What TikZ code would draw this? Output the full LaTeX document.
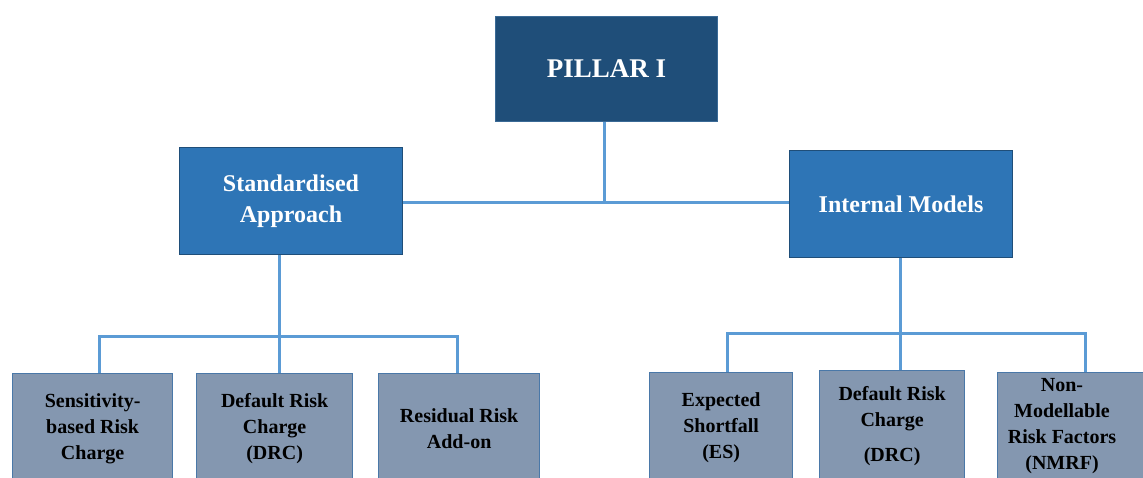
\documentclass[tikz,border=0pt]{standalone}
\usepackage{fontspec}
\setmainfont{Liberation Serif}
\definecolor{pillarfill}{HTML}{1F4E79}
\definecolor{pillaredge}{HTML}{3A6A96}
\definecolor{midfill}{HTML}{2E75B6}
\definecolor{midedge}{HTML}{1F4E79}
\definecolor{leaffill}{HTML}{8497B0}
\definecolor{leafedge}{HTML}{4A78A8}
\definecolor{linkcol}{HTML}{5B9BD5}
\tikzset{
  boxbase/.style={rectangle, anchor=north west, inner sep=0pt, align=center, font=\bfseries},
  pillarbox/.style={boxbase, fill=pillarfill, draw=pillaredge, line width=1pt, text=white,
    font=\bfseries\fontsize{27}{32}\selectfont},
  midbox/.style={boxbase, fill=midfill, draw=midedge, line width=1pt, text=white,
    font=\bfseries\fontsize{24}{31}\selectfont},
  leafbox/.style={boxbase, fill=leaffill, draw=leafedge, line width=1.3pt, text=black,
    minimum height=110pt, font=\bfseries\fontsize{20}{26}\selectfont},
  leaftext/.style={anchor=center, inner sep=0pt, align=center, text=black,
    font=\bfseries\fontsize{20}{26}\selectfont},
  link/.style={draw=linkcol, line width=3pt}
}
\begin{document}
\begin{tikzpicture}[x=1pt,y=-1pt]
\useasboundingbox (0,0) rectangle (1143,477);
\clip (0,0) rectangle (1143,477);

\node[pillarbox, minimum width=222pt, minimum height=105pt] (pillar) at (495,16) {PILLAR I};
\node[midbox, minimum width=223pt, minimum height=107pt] (std) at (179,147) {Standardised\\Approach};
\node[midbox, minimum width=223pt, minimum height=107pt] (im) at (789,150) {Internal Models};

\node[leafbox, minimum width=160pt] (l1) at (12,373) {Sensitivity-\\based Risk\\Charge};
\node[leafbox, minimum width=156pt] (l2) at (196,373) {Default Risk\\Charge\\(DRC)};
\node[leafbox, minimum width=161pt] (l3) at (378,373) {Residual Risk\\Add-on};

\node[leafbox, minimum width=143pt] (r1) at (649,372) {Expected\\Shortfall\\(ES)};
\node[leafbox, minimum width=145pt] (r2) at (819,370) {Default Risk\\Charge\\[9pt](DRC)};
\node[leafbox, minimum width=163pt] (r3) at (997,372) {};
\node[leaftext] (r3t) at (1062,426) {Non-\\Modellable\\Risk Factors\\(NMRF)};

\coordinate (jt) at (604,202);
\coordinate (jl) at (279,336);
\coordinate (jr) at (900,333);
\coordinate (a1) at (99,336);
\coordinate (a3) at (457,336);
\coordinate (b1) at (727,333);
\coordinate (b3) at (1085,333);

\draw[link] (pillar.south -| jt) -- (jt);
\draw[link] (std.east |- jt) -- (im.west |- jt);

\draw[link] (std.south -| jl) -- (jl);
\draw[link] (a1 |- l1.north) -- (a1) -- (a3) -- (a3 |- l3.north);
\draw[link] (jl) -- (jl |- l2.north);

\draw[link] (im.south -| jr) -- (jr);
\draw[link] (b1 |- r1.north) -- (b1) -- (b3) -- (b3 |- r3.north);
\draw[link] (jr) -- (jr |- r2.north);
\end{tikzpicture}
\end{document}
